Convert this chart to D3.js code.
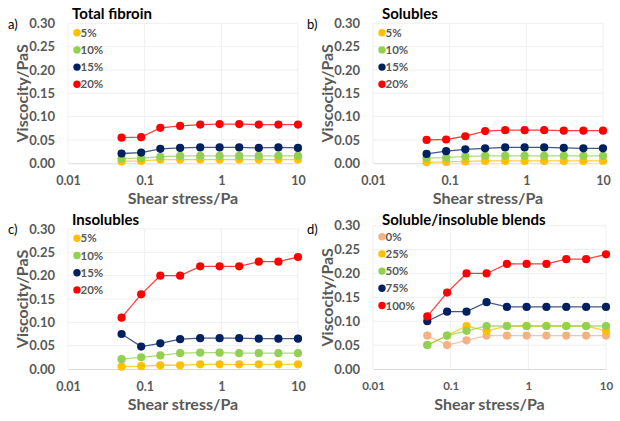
<!DOCTYPE html>
<html>
<head>
<meta charset="utf-8">
<script src="https://cdn.jsdelivr.net/npm/d3@7/dist/d3.min.js"></script>
<style>
  html, body { margin: 0; padding: 0; background: #ffffff; }
  svg { display: block; }
  text { font-family: Lato, "Open Sans", "Noto Sans", sans-serif; }
</style>
</head>
<body>
<svg id="chart" width="620" height="421"></svg>
<script>
// ---- data ----
const shearStress = [0.05, 0.09, 0.16, 0.29, 0.53, 0.95, 1.71, 3.08, 5.55, 10];
const xTicks = [0.01, 0.1, 1, 10];
const xTickLabels = ["0.01", "0.1", "1", "10"];
const yTicks = [0, 0.05, 0.10, 0.15, 0.20, 0.25, 0.30];
const yTickLabels = ["0.00", "0.05", "0.10", "0.15", "0.20", "0.25", "0.30"];

const concLabels = ["5%", "10%", "15%", "20%"];
const blendLabels = ["0%", "25%", "50%", "75%", "100%"];

const totalFibroin5  = [0.004, 0.005, 0.008, 0.008, 0.008, 0.008, 0.008, 0.008, 0.008, 0.008];
const totalFibroin10 = [0.010, 0.011, 0.014, 0.016, 0.016, 0.016, 0.016, 0.016, 0.016, 0.016];
const totalFibroin15 = [0.021, 0.023, 0.031, 0.033, 0.034, 0.034, 0.034, 0.033, 0.034, 0.033];
const totalFibroin20 = [0.055, 0.056, 0.076, 0.080, 0.083, 0.084, 0.084, 0.083, 0.083, 0.083];

const solubles5  = [0.002, 0.003, 0.004, 0.005, 0.005, 0.005, 0.005, 0.005, 0.005, 0.005];
const solubles10 = [0.011, 0.012, 0.015, 0.016, 0.016, 0.016, 0.016, 0.016, 0.016, 0.016];
const solubles15 = [0.020, 0.026, 0.030, 0.032, 0.034, 0.034, 0.034, 0.033, 0.032, 0.032];
const solubles20 = [0.050, 0.051, 0.058, 0.069, 0.071, 0.071, 0.071, 0.070, 0.070, 0.070];

const insolubles5  = [0.005, 0.006, 0.008, 0.008, 0.010, 0.010, 0.010, 0.010, 0.010, 0.010];
const insolubles10 = [0.021, 0.025, 0.029, 0.034, 0.035, 0.035, 0.034, 0.034, 0.034, 0.034];
const insolubles15 = [0.075, 0.048, 0.055, 0.064, 0.066, 0.066, 0.066, 0.065, 0.065, 0.065];
const insolubles20 = [0.11, 0.16, 0.20, 0.20, 0.22, 0.22, 0.22, 0.23, 0.23, 0.24];

const blend0   = [0.07, 0.05, 0.06, 0.07, 0.07, 0.07, 0.07, 0.07, 0.07, 0.07];
const blend25  = [0.05, 0.07, 0.09, 0.08, 0.09, 0.09, 0.09, 0.09, 0.09, 0.08];
const blend50  = [0.05, 0.07, 0.08, 0.09, 0.09, 0.09, 0.09, 0.09, 0.09, 0.09];
const blend75  = [0.10, 0.12, 0.12, 0.14, 0.13, 0.13, 0.13, 0.13, 0.13, 0.13];
const blend100 = [0.11, 0.16, 0.20, 0.20, 0.22, 0.22, 0.22, 0.23, 0.23, 0.24];

const concColors  = ["#FFC000", "#92D050", "#002060", "#FF0000"];
const blendColors = ["#F4B183", "#FFC000", "#92D050", "#002060", "#FF0000"];

// ---- layout ----
const panels = [
  { letter: "a)", title: "Total fibroin", x0: 68, x1: 298, yTop: 23.3, yBot: 163.3,
    labels: concLabels, colors: concColors,
    series: [totalFibroin5, totalFibroin10, totalFibroin15, totalFibroin20],
    letterX: 8, letterY: 29, titleX: 72, titleY: 18.5, legY: 32.7, xtFont: 12.5 },
  { letter: "b)", title: "Solubles", x0: 373, x1: 603, yTop: 23.3, yBot: 163.3,
    labels: concLabels, colors: concColors,
    series: [solubles5, solubles10, solubles15, solubles20],
    letterX: 307, letterY: 29, titleX: 382, titleY: 18.5, legY: 32.7, xtFont: 12.5 },
  { letter: "c)", title: "Insolubles", x0: 68, x1: 298, yTop: 229, yBot: 369,
    labels: concLabels, colors: concColors,
    series: [insolubles5, insolubles10, insolubles15, insolubles20],
    letterX: 8, letterY: 234, titleX: 72, titleY: 225, legY: 238.3, xtFont: 12.5 },
  { letter: "d)", title: "Soluble/insoluble blends", x0: 373, x1: 606, yTop: 225.7, yBot: 369,
    labels: blendLabels, colors: blendColors,
    series: [blend0, blend25, blend50, blend75, blend100],
    letterX: 307, letterY: 234, titleX: 382, titleY: 225, legY: 236.7, xtFont: 11.5 }
];

const svg = d3.select("#chart");
const gray = "#595959";

panels.forEach(p => {
  const x = d3.scaleLog().domain([0.01, 10]).range([p.x0, p.x1]);
  const y = d3.scaleLinear().domain([0, 0.30]).range([p.yBot, p.yTop]);
  const g = svg.append("g");

  // gridlines
  g.append("g").selectAll("line.h").data(yTicks.slice(1)).join("line")
    .attr("x1", p.x0).attr("x2", p.x1)
    .attr("y1", d => y(d)).attr("y2", d => y(d))
    .attr("stroke", "#efefef").attr("stroke-width", 1);
  g.append("g").selectAll("line.v").data(xTicks).join("line")
    .attr("x1", d => x(d)).attr("x2", d => x(d))
    .attr("y1", p.yTop).attr("y2", p.yBot)
    .attr("stroke", "#efefef").attr("stroke-width", 1);

  // x axis
  const xAxis = d3.axisBottom(x).tickValues(xTicks)
    .tickFormat((d, i) => xTickLabels[i]).tickSize(0).tickPadding(13);
  const xg = g.append("g").attr("transform", `translate(0,${p.yBot})`).call(xAxis);
  xg.select(".domain").attr("stroke", "#d9d9d9");
  xg.selectAll("text").attr("fill", gray).attr("font-weight", 700)
    .attr("font-size", p.xtFont).attr("font-family", "Lato, sans-serif");

  // y axis
  const yAxis = d3.axisLeft(y).tickValues(yTicks)
    .tickFormat((d, i) => yTickLabels[i]).tickSize(0).tickPadding(13);
  const yg = g.append("g").attr("transform", `translate(${p.x0},0)`).call(yAxis);
  yg.select(".domain").remove();
  yg.selectAll("text").attr("fill", gray).attr("font-weight", 700)
    .attr("font-size", 13).attr("font-family", "Lato, sans-serif");

  // axis titles
  g.append("text")
    .attr("x", (p.x0 + p.x1) / 2).attr("y", p.yBot + 41)
    .attr("text-anchor", "middle").attr("fill", gray)
    .attr("font-weight", 700).attr("font-size", 16)
    .text("Shear stress/Pa");
  g.append("text")
    .attr("transform", `translate(${p.x0 - 40.5},${(p.yTop + p.yBot) / 2}) rotate(-90)`)
    .attr("text-anchor", "middle").attr("fill", gray)
    .attr("font-weight", 700).attr("font-size", 16)
    .text("Viscocity/PaS");

  // panel letter and title
  g.append("text").attr("x", p.letterX).attr("y", p.letterY)
    .attr("fill", "#000").attr("font-size", 13).text(p.letter);
  g.append("text").attr("x", p.titleX).attr("y", p.titleY)
    .attr("fill", "#000").attr("font-weight", 700).attr("font-size", 15).text(p.title);

  // series
  const line = d3.line().x((d, i) => x(shearStress[i])).y(d => y(d));
  p.series.forEach((s, k) => {
    const sg = g.append("g");
    sg.append("path").datum(s).attr("d", line)
      .attr("fill", "none").attr("stroke", p.colors[k])
      .attr("stroke-width", 1.3).attr("stroke-opacity", 0.75);
    sg.selectAll("circle").data(s).join("circle")
      .attr("cx", (d, i) => x(shearStress[i])).attr("cy", d => y(d))
      .attr("r", 4.1).attr("fill", p.colors[k]);
  });

  // legend
  const lg = g.append("g");
  p.labels.forEach((lab, k) => {
    const ly = p.legY + k * 17.2;
    lg.append("circle").attr("cx", p.x0 + 9).attr("cy", ly).attr("r", 3.7).attr("fill", p.colors[k]);
    lg.append("text").attr("x", p.x0 + 12.5).attr("y", ly + 4)
      .attr("fill", gray).attr("font-weight", 700).attr("font-size", 11.5).text(lab);
  });
});
</script>
</body>
</html>
